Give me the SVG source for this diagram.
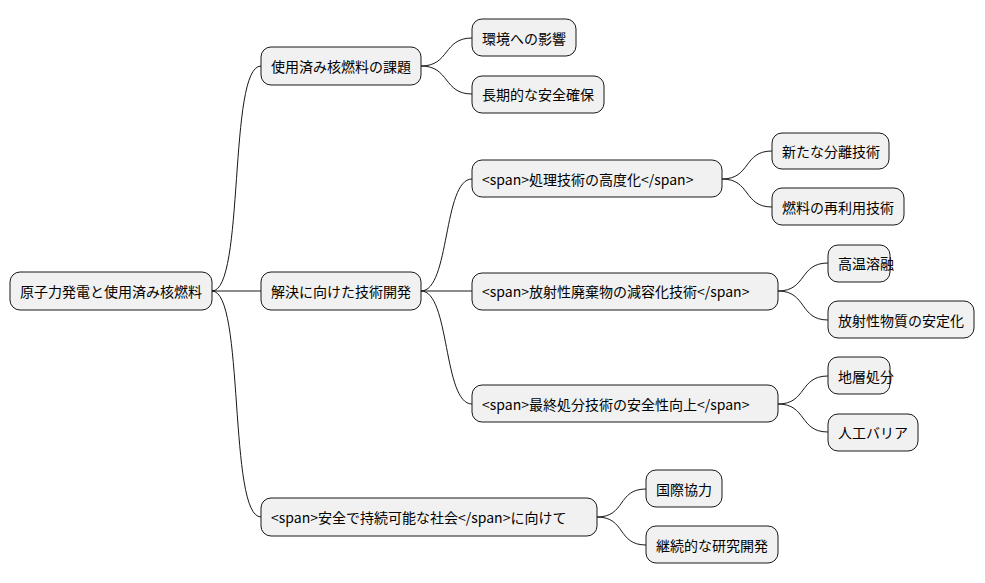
<svg xmlns="http://www.w3.org/2000/svg" width="985" height="583" viewBox="0 0 985 583">
<style>
rect{fill:#f1f1f1;stroke:#181818;stroke-width:1}
text{font-family:"Noto Sans CJK JP","Noto Sans",sans-serif;font-size:14px;fill:#000;dominant-baseline:central}
.c path{fill:none;stroke:#181818;stroke-width:1}
</style>
<rect x="0" y="0" width="985" height="583" style="fill:#fff;stroke:none"/>
<g class="c" id="connectors">
<path d="M212,291 C245,291 228,66 261,66"/>
<path d="M212,291 H261"/>
<path d="M212,291 C245,291 228,517 261,517"/>
<path d="M421,66 C450,66 443,38 472,38"/>
<path d="M421,66 C450,66 443,94 472,94"/>
<path d="M421,291 C450,291 443,179 472,179"/>
<path d="M421,291 H472"/>
<path d="M421,291 C450,291 443,404 472,404"/>
<path d="M722,179 C751,179 743,151 772,151"/>
<path d="M722,179 C751,179 743,207 772,207"/>
<path d="M778,291 C807,291 799,263 828,263"/>
<path d="M778,291 C807,291 799,320 828,320"/>
<path d="M778,404 C807,404 799,376 828,376"/>
<path d="M778,404 C807,404 799,432 828,432"/>
<path d="M597,517 C626,517 617,489 646,489"/>
<path d="M597,517 C626,517 617,545 646,545"/>
</g>
<g id="root"><rect x="10" y="272" width="202" height="38" rx="10"/><text x="20" y="291">原子力発電と使用済み核燃料</text></g>
<g id="n1"><rect x="261" y="47" width="160" height="38" rx="10"/><text x="271" y="66">使用済み核燃料の課題</text></g>
<g id="n2"><rect x="261" y="272" width="160" height="38" rx="10"/><text x="271" y="291">解決に向けた技術開発</text></g>
<g id="n3"><rect x="261" y="498" width="336" height="38" rx="10"/><text x="271" y="517">&lt;span&gt;安全で持続可能な社会&lt;/span&gt;に向けて</text></g>
<g id="n11"><rect x="472" y="19" width="104" height="37" rx="10"/><text x="482" y="38">環境への影響</text></g>
<g id="n12"><rect x="472" y="76" width="132" height="37" rx="10"/><text x="482" y="94">長期的な安全確保</text></g>
<g id="n21"><rect x="472" y="160" width="250" height="37" rx="10"/><text x="482" y="179">&lt;span&gt;処理技術の高度化&lt;/span&gt;</text></g>
<g id="n22"><rect x="472" y="273" width="306" height="37" rx="10"/><text x="482" y="291">&lt;span&gt;放射性廃棄物の減容化技術&lt;/span&gt;</text></g>
<g id="n23"><rect x="472" y="385" width="306" height="37" rx="10"/><text x="482" y="404">&lt;span&gt;最終処分技術の安全性向上&lt;/span&gt;</text></g>
<g id="n211"><rect x="772" y="133" width="117" height="36" rx="10"/><text x="782" y="151">新たな分離技術</text></g>
<g id="n212"><rect x="772" y="188" width="132" height="37" rx="10"/><text x="782" y="207">燃料の再利用技術</text></g>
<g id="n221"><rect x="828" y="245" width="62" height="37" rx="10"/><text x="838" y="263">高温溶融</text></g>
<g id="n222"><rect x="828" y="301" width="146" height="37" rx="10"/><text x="838" y="320">放射性物質の安定化</text></g>
<g id="n231"><rect x="828" y="357" width="62" height="37" rx="10"/><text x="838" y="376">地層処分</text></g>
<g id="n232"><rect x="828" y="414" width="90" height="37" rx="10"/><text x="838" y="432">人工バリア</text></g>
<g id="n31"><rect x="646" y="470" width="76" height="37" rx="10"/><text x="656" y="489">国際協力</text></g>
<g id="n32"><rect x="646" y="526" width="132" height="37" rx="10"/><text x="656" y="545">継続的な研究開発</text></g>
</svg>
